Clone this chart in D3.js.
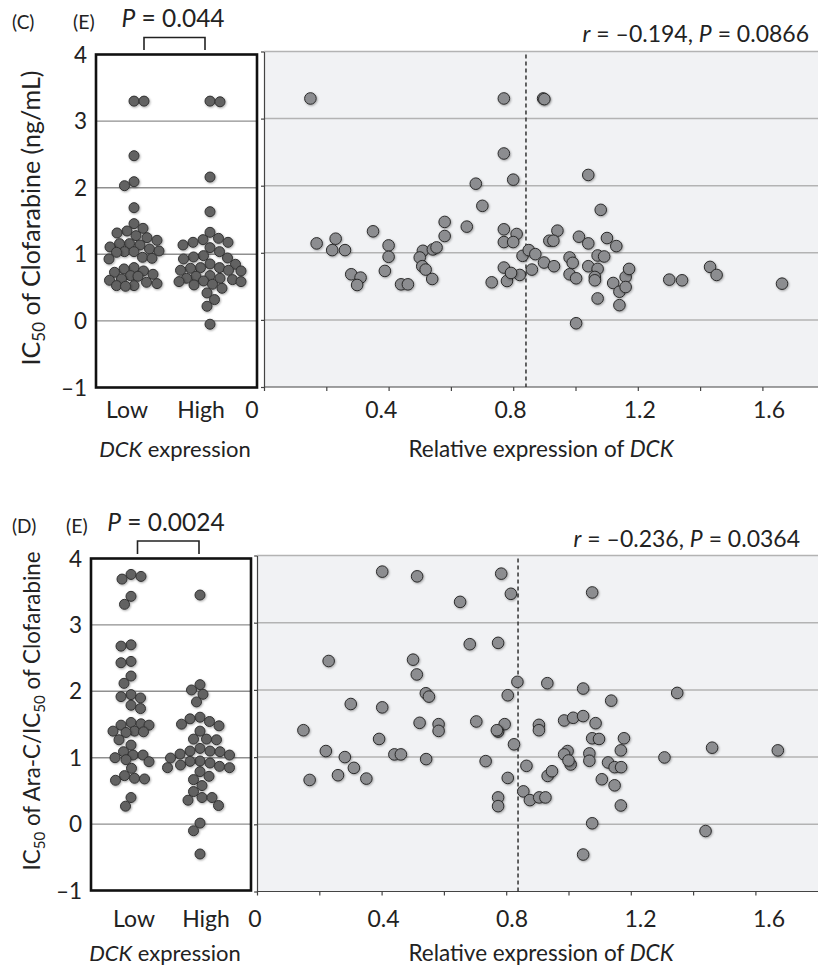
<!DOCTYPE html>
<html><head><meta charset="utf-8">
<script src="https://cdn.jsdelivr.net/npm/d3@7"></script>
<style>
body{margin:0;background:#fff}
svg{display:block}
text{font-family:Lato,"Open Sans",sans-serif;fill:#222}
</style>
</head><body>
<svg id="c" width="818" height="970"></svg>
<script>
// ---------------- DATA ----------------
const groups = ["Low", "High"];
const yTicks = [-1, 0, 1, 2, 3, 4];
const yGrid = [0, 1, 2, 3];
const xTicks = [0, 0.2, 0.4, 0.6, 0.8, 1.0, 1.2, 1.4, 1.6];
const xTickLabels = [0, 0.4, 0.8, 1.2, 1.6];

// Panel C: relative DCK expression vs IC50 of clofarabine
const cExpr = [0.149,0.770,0.896,0.900,0.770,0.800,0.680,0.701,0.580,0.651,0.580,0.350,0.169,0.230,0.219,0.260,0.400,0.400,0.388,0.280,0.310,0.299,0.440,0.462,0.510,0.500,0.508,0.519,0.540,0.542,0.554,0.770,0.811,0.770,0.800,0.770,0.821,0.780,0.731,0.830,0.850,0.871,0.860,0.899,0.916,0.793,
  1.041,1.081,0.942,0.929,0.931,1.011,1.041,1.101,1.131,0.981,0.991,0.981,1.002,1.071,1.092,1.041,1.071,1.062,1.062,1.071,1.002,1.121,1.141,1.141,1.161,1.172,1.161,1.301,1.342,1.432,1.453,1.663];
const cIC50 = [3.30,3.30,3.30,3.29,2.48,2.09,2.03,1.70,1.46,1.39,1.25,1.32,1.14,1.21,1.04,1.04,1.11,0.94,0.73,0.68,0.63,0.52,0.53,0.53,1.03,0.93,0.80,0.75,0.61,1.05,1.08,1.35,1.28,1.16,1.16,0.78,0.67,0.58,0.56,0.955,1.04,0.98,0.75,0.855,1.18,0.70,
  2.16,1.64,1.33,1.18,0.80,1.24,1.14,1.22,1.10,0.93,0.85,0.68,0.62,0.96,0.945,0.80,0.76,0.64,0.59,0.32,-0.05,0.55,0.42,0.22,0.64,0.76,0.49,0.60,0.59,0.79,0.67,0.54];
const cMedian = 0.841;

// Panel D: relative DCK expression vs IC50 Ara-C / IC50 clofarabine
const dExpr = [0.402,0.514,0.784,0.815,0.652,0.683,0.774,0.230,0.501,0.513,0.836,0.932,0.542,0.552,0.805,0.301,0.402,0.149,0.392,0.522,0.583,0.583,0.704,0.795,0.774,0.770,0.825,0.905,0.905,0.221,0.282,0.311,0.260,0.169,0.351,0.441,0.462,0.543,0.734,0.805,0.865,0.774,0.774,0.855,0.876,0.906,0.926,0.933,0.947,
  1.076,1.047,1.137,1.349,0.986,1.015,1.047,1.087,1.076,1.098,1.178,1.168,0.997,0.986,1.007,1.000,1.067,1.067,1.127,1.148,1.169,1.107,1.148,1.168,1.076,1.047,1.308,1.461,1.440,1.672];
const dRatio = [3.76,3.69,3.73,3.43,3.31,2.68,2.70,2.43,2.45,2.23,2.12,2.10,1.95,1.90,1.92,1.79,1.74,1.40,1.27,1.51,1.49,1.39,1.53,1.49,1.38,1.40,1.19,1.48,1.40,1.09,1.00,0.84,0.73,0.66,0.68,1.04,1.04,0.97,0.94,0.69,0.87,0.40,0.27,0.49,0.36,0.40,0.40,0.72,0.79,
  3.45,2.02,1.84,1.955,1.545,1.585,1.61,1.505,1.28,1.27,1.28,1.10,1.09,1.04,0.89,0.95,1.055,0.945,0.92,0.85,0.85,0.67,0.58,0.28,0.015,-0.45,0.995,1.14,-0.10,1.10];
const dMedian = 0.838;

const panelTags = ["(C)", "(D)"];
const groupP = ["0.044", "0.0024"];
const corrR = ["\u20130.194", "\u20130.236"];
const corrP = ["0.0866", "0.0364"];

// ---------------- DRAW ----------------
const svg = d3.select("#c");
const defs = svg.append("defs");
defs.append("filter").attr("id","sh").attr("x","-50%").attr("y","-50%").attr("width","200%").attr("height","200%")
  .append("feDropShadow").attr("dx",0.8).attr("dy",1).attr("stdDeviation",0.9)
  .attr("flood-color","#000").attr("flood-opacity",0.35);

const fmtTick = v => v < 0 ? "\u2013" + Math.abs(v) : String(v);

// width-limited beeswarm: nearest free spot to the centre, else the least-overlapping one
function swarm(vals, yS, cx, d, W){
  const pts = vals.map(v => ({v, y: yS(v)})).sort((a, b) => a.y - b.y);
  const placed = [];
  pts.forEach((p, idx) => {
    const sgn = idx % 2 ? 1 : -1;
    let bestX = cx, bestD = -1, found = false;
    for (let k = 0; ; k++){
      const off = (k % 2 ? sgn : -sgn) * Math.ceil(k / 2) * 0.5;
      if (Math.abs(off) > W) break;
      const x = cx + off;
      let md = Infinity;
      placed.forEach(q => { const dd = Math.hypot(q.x - x, q.y - p.y); if (dd < md) md = dd; });
      if (md >= d){ p.x = x; found = true; break; }
      if (md > bestD + 0.3){ bestD = md; bestX = x; }
    }
    if (!found) p.x = bestX;
    placed.push(p);
  });
  return placed;
}

function drawPanel(cfg){
  const g = svg.append("g");
  const expr = cfg.expr, vals = cfg.vals;

  // ---- left box (group dot plot)
  const yB = d3.scaleLinear().domain([-1, 4]).range([cfg.box.y1, cfg.box.y0]);
  const gx = d3.scalePoint().domain(groups).range(cfg.centers);
  const glx = d3.scalePoint().domain(groups).range(cfg.labelCenters);
  g.append("rect").attr("x", cfg.box.x0).attr("y", cfg.box.y0)
    .attr("width", cfg.box.x1 - cfg.box.x0).attr("height", cfg.box.y1 - cfg.box.y0).attr("fill", "#fff");
  g.selectAll(".bg").data(yGrid).join("line")
    .attr("x1", cfg.box.x0).attr("x2", cfg.box.x1)
    .attr("y1", d => yB(d)).attr("y2", d => yB(d))
    .attr("stroke", "#8f8f8f").attr("stroke-width", 1.4);

  const low = vals.filter((v, i) => expr[i] < cfg.median);
  const high = vals.filter((v, i) => expr[i] >= cfg.median);
  const pts = [...swarm(low, yB, gx("Low"), 10, cfg.widths[0]), ...swarm(high, yB, gx("High"), 10, cfg.widths[1])];
  g.append("g").selectAll("circle").data(pts).join("circle")
    .attr("cx", d => d.x).attr("cy", d => d.y).attr("r", 5)
    .attr("fill", "#626262").attr("stroke", "#333").attr("stroke-width", 1)
    .attr("filter", "url(#sh)");

  g.append("rect").attr("x", cfg.box.x0).attr("y", cfg.box.y0)
    .attr("width", cfg.box.x1 - cfg.box.x0).attr("height", cfg.box.y1 - cfg.box.y0)
    .attr("fill", "none").attr("stroke", "#111").attr("stroke-width", 2.6);

  g.selectAll(".yl").data(yTicks).join("text")
    .attr("x", cfg.box.x0 - 9).attr("y", d => yB(d)).attr("dy", "0.36em")
    .attr("text-anchor", "end").attr("font-size", 22.5).text(fmtTick);

  g.selectAll(".gl").data(groups).join("text")
    .attr("x", d => glx(d)).attr("y", cfg.lowY)
    .attr("text-anchor", "middle").attr("font-size", 23).text(d => d);

  const dt = g.append("text").attr("x", cfg.dckX).attr("y", cfg.titleY)
    .attr("text-anchor", "middle").attr("font-size", 22);
  dt.append("tspan").attr("font-style", "italic").text("DCK");
  dt.append("tspan").text(" expression");

  // bracket + P
  g.append("path").attr("d", `M${cfg.br[0]},${cfg.br[3]}V${cfg.br[2]}H${cfg.br[1]}V${cfg.br[3]}`)
    .attr("fill", "none").attr("stroke", "#222").attr("stroke-width", 1.6);
  const pt = g.append("text").attr("x", cfg.pX).attr("y", cfg.pY)
    .attr("text-anchor", "middle").attr("font-size", 24.5);
  pt.append("tspan").attr("font-style", "italic").text("P");
  pt.append("tspan").text(" = " + cfg.p);

  g.append("text").attr("x", 12).attr("y", cfg.tagY).attr("font-size", 19).text(cfg.tag);
  g.append("text").attr("x", cfg.eX).attr("y", cfg.tagY).attr("font-size", 19.5).text("(E)");

  // y title
  const yt = g.append("text").attr("transform", `translate(40,${cfg.ytY}) rotate(-90)`)
    .attr("text-anchor", "middle").attr("font-size", cfg.ytSize);
  cfg.ytParts.forEach(p => {
    const ts = yt.append("tspan").text(p.t);
    if (p.sub) ts.attr("font-size", cfg.ytSize * 0.68).attr("dy", 5);
    else if (p.after) ts.attr("dy", -5);
  });

  // ---- right scatter
  const xS = d3.scaleLinear().domain([0, 1.6]).range([cfg.sc.x0, cfg.sc.x0 + 1.6 * 311.5]);
  const yS = d3.scaleLinear().domain([-1, 4]).range([cfg.sc.y1, cfg.sc.y0]);
  g.append("rect").attr("x", cfg.sc.x0).attr("y", cfg.sc.y0)
    .attr("width", 818 - cfg.sc.x0).attr("height", cfg.sc.y1 - cfg.sc.y0).attr("fill", "#f1f2f4");
  g.selectAll(".sg").data(yGrid.concat([4])).join("line")
    .attr("x1", cfg.sc.x0).attr("x2", 818)
    .attr("y1", d => yS(d)).attr("y2", d => yS(d))
    .attr("stroke", "#b3b3b3").attr("stroke-width", 1.5);

  g.append("g").attr("transform", `translate(${cfg.sc.x0},0)`)
    .call(d3.axisLeft(yS).tickValues(yTicks).tickSize(3).tickSizeOuter(0).tickFormat(""))
    .call(a => a.selectAll("path,line").attr("stroke", "#444").attr("stroke-width", 1.2));
  g.append("g").attr("transform", `translate(0,${cfg.sc.y1})`)
    .call(d3.axisBottom(xS).tickValues(xTicks).tickSize(4).tickSizeOuter(0).tickFormat(""))
    .call(a => a.select("path").attr("d", `M${cfg.sc.x0},0H818`))
    .call(a => a.selectAll("path,line").attr("stroke", "#444").attr("stroke-width", 1.2));

  const xL = d3.scaleLinear().domain([0, 1.6]).range(cfg.labelRange);
  g.selectAll(".xl").data(xTickLabels).join("text")
    .attr("x", d => xL(d)).attr("y", cfg.lowY)
    .attr("text-anchor", "middle").attr("font-size", 23).text(d => d);

  g.append("line").attr("x1", xS(cfg.median)).attr("x2", xS(cfg.median))
    .attr("y1", cfg.sc.y0 + 3).attr("y2", cfg.sc.y1)
    .attr("stroke", "#333").attr("stroke-width", 1.5).attr("stroke-dasharray", "4,3");

  g.append("g").selectAll("circle").data(expr).join("circle")
    .attr("cx", d => xS(d)).attr("cy", (d, i) => yS(vals[i])).attr("r", 5.8)
    .attr("fill", "#8c8d90").attr("stroke", "#2b2b2b").attr("stroke-width", 1)
    .attr("filter", "url(#sh)");

  const rt = g.append("text").attr("x", cfg.rX).attr("y", cfg.rY)
    .attr("text-anchor", "end").attr("font-size", 23);
  rt.append("tspan").attr("font-style", "italic").text("r");
  rt.append("tspan").text(" = " + cfg.r + ", ");
  rt.append("tspan").attr("font-style", "italic").text("P");
  rt.append("tspan").text(" = " + cfg.rp);

  const xt = g.append("text").attr("x", 541).attr("y", cfg.titleY)
    .attr("text-anchor", "middle").attr("font-size", 22.5);
  xt.append("tspan").text("Relative expression of ");
  xt.append("tspan").attr("font-style", "italic").text("DCK");
}

drawPanel({
  expr: cExpr, vals: cIC50, median: cMedian,
  box: {x0: 96, x1: 257, y0: 54.5, y1: 387.5},
  sc: {x0: 264, y0: 51.5, y1: 387},
  centers: [134, 210], labelCenters: [127, 201], widths: [25, 31],
  lowY: 418, titleY: 457, dckX: 175,
  labelRange: [252, 769],
  br: [144, 205, 37.5, 50], pX: 173, pY: 27, p: groupP[0],
  tag: panelTags[0], tagY: 29, eX: 73,
  ytY: 218, ytSize: 25,
  ytParts: [{t: "IC"}, {t: "50", sub: true}, {t: " of Clofarabine (ng/mL)", after: true}],
  rX: 809, rY: 42, r: corrR[0], rp: corrP[0]
});

drawPanel({
  expr: dExpr, vals: dRatio, median: dMedian,
  box: {x0: 91, x1: 251, y0: 558.5, y1: 890.5},
  sc: {x0: 257, y0: 555.5, y1: 891.5},
  centers: [131, 200], labelCenters: [134, 206], widths: [18, 34],
  lowY: 927, titleY: 961, dckX: 165,
  labelRange: [255, 769],
  br: [137.5, 199, 541, 554], pX: 166, pY: 531, p: groupP[1],
  tag: panelTags[1], tagY: 533, eX: 66,
  ytY: 711, ytSize: 22.3,
  ytParts: [{t: "IC"}, {t: "50", sub: true}, {t: " of Ara-C/IC", after: true}, {t: "50", sub: true}, {t: " of Clofarabine", after: true}],
  rX: 800, rY: 547, r: corrR[1], rp: corrP[1]
});
</script>
</body></html>
